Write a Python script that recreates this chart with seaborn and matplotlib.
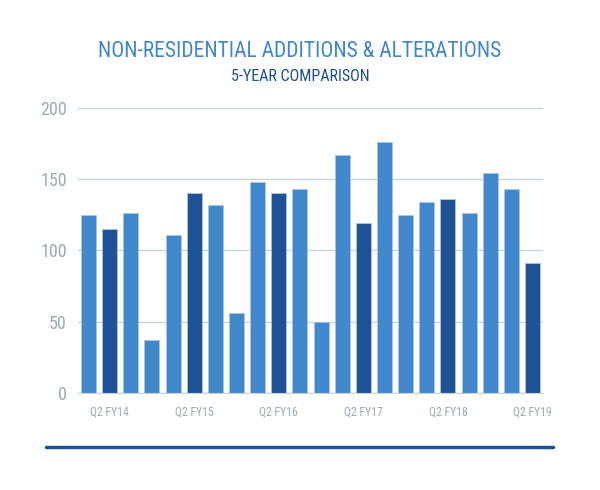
import numpy as np
import pandas as pd
import matplotlib
matplotlib.use('Agg')
import matplotlib.pyplot as plt
import seaborn as sns

# Dados: valores trimestrais (Q1 FY14 .. Q2 FY19)
trimestres = ['Q1 FY14', 'Q2 FY14', 'Q3 FY14', 'Q4 FY14',
              'Q1 FY15', 'Q2 FY15', 'Q3 FY15', 'Q4 FY15',
              'Q1 FY16', 'Q2 FY16', 'Q3 FY16', 'Q4 FY16',
              'Q1 FY17', 'Q2 FY17', 'Q3 FY17', 'Q4 FY17',
              'Q1 FY18', 'Q2 FY18', 'Q3 FY18', 'Q4 FY18',
              'Q1 FY19', 'Q2 FY19']
valores = [125, 115, 126, 37,
           111, 140, 132, 56,
           148, 140, 143, 50,
           167, 119, 176, 125,
           134, 136, 126, 154,
           143, 91]
yticks = [0, 50, 100, 150, 200]

azul_claro = '#4187cb'
azul_escuro = '#1f5195'
cinza_texto = '#9aabb2'
cinza_grid = '#c8d3d8'

df = pd.DataFrame({'trimestre': trimestres, 'valor': valores})
df['tipo'] = np.where(df['trimestre'].str.startswith('Q2'), 'Q2', 'outro')

sns.set_style('white')
fonte = ['Roboto Condensed', 'Liberation Sans Narrow', 'Roboto', 'DejaVu Sans']
plt.rcParams['font.family'] = fonte

fig = plt.figure(figsize=(6, 4.9), dpi=100)
ax = fig.add_axes([0.13, 0.198, 0.775, 0.582])

sns.barplot(data=df, x='trimestre', y='valor', hue='tipo',
            palette={'Q2': azul_escuro, 'outro': azul_claro}, saturation=1,
            dodge=False, width=0.71, legend=False, ax=ax,
            edgecolor='#a9c6e6', linewidth=0.6)

ax.set_ylim(0, 200)
ax.set_xlim(-0.5, len(trimestres) - 0.5)
ax.set_yticks(yticks)
ax.set_yticklabels([str(v) for v in yticks], fontsize=13, color=cinza_texto)

pos_q2 = [i for i, t in enumerate(trimestres) if t.startswith('Q2')]
ax.set_xticks(pos_q2)
ax.set_xticklabels([trimestres[i] for i in pos_q2], fontsize=8.5, color=cinza_texto)
ax.tick_params(axis='both', length=0, pad=8)
ax.tick_params(axis='x', pad=9)

ax.grid(axis='y', color=cinza_grid, linewidth=1)
ax.set_axisbelow(True)
for lado in ['top', 'right', 'left']:
    ax.spines[lado].set_visible(False)
ax.spines['bottom'].set_color(cinza_grid)
ax.set_xlabel('')
ax.set_ylabel('')

fig.text(0.5, 0.895, 'NON-RESIDENTIAL ADDITIONS & ALTERATIONS', ha='center', va='center',
         fontsize=15.5, color='#3f86cb')
fig.text(0.5, 0.843, '5-YEAR COMPARISON', ha='center', va='center',
         fontsize=11.5, color='#1f4e8c')

# linha decorativa inferior
fig.add_artist(plt.Line2D([0.077, 0.922], [0.088, 0.088], color=azul_escuro, linewidth=2.5,
                          transform=fig.transFigure))

plt.savefig('out.png', dpi=100)
